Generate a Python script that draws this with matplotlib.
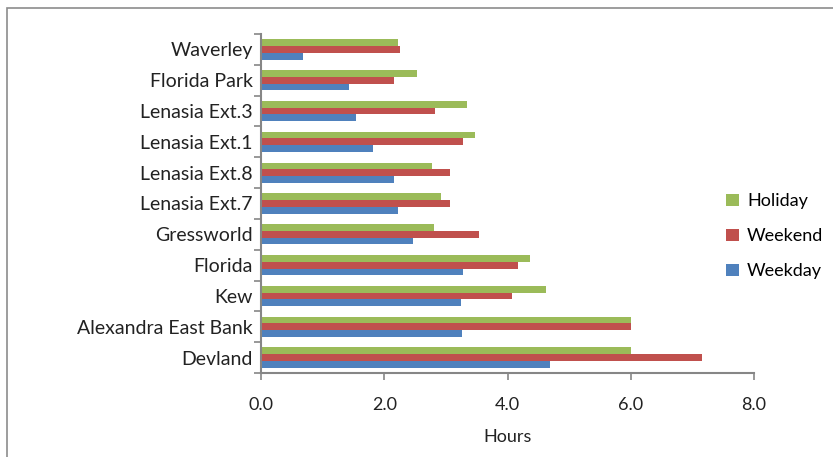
import matplotlib
matplotlib.use("Agg")
import matplotlib.pyplot as plt
import numpy as np
from matplotlib.patches import Rectangle

plt.rcParams['font.family'] = ['Lato', 'DejaVu Sans']

# Suburbs listed bottom to top
suburbs = ["Devland", "Alexandra East Bank", "Kew", "Florida", "Gressworld",
           "Lenasia Ext.7", "Lenasia Ext.8", "Lenasia Ext.1", "Lenasia Ext.3",
           "Florida Park", "Waverley"]
weekday = [4.69, 3.26, 3.24, 3.27, 2.47, 2.22, 2.16, 1.81, 1.54, 1.42, 0.68]
weekend = [7.15, 6.00, 4.07, 4.17, 3.54, 3.06, 3.06, 3.28, 2.83, 2.16, 2.25]
holiday = [6.00, 6.00, 4.62, 4.37, 2.80, 2.92, 2.78, 3.47, 3.35, 2.53, 2.23]
x_ticks = [0.0, 2.0, 4.0, 6.0, 8.0]

c_weekday = "#4F81BD"
c_weekend = "#C0504D"
c_holiday = "#9BBB59"
axis_grey = "#868686"
text_col = "#222222"
fs = 13

W, H = 833, 457
fig = plt.figure(figsize=(W / 100, H / 100), dpi=100)

# outer chart frame
fig.patches.append(Rectangle((7 / W, -0.05), 1.0, 1 - 8 / H + 0.05,
                             transform=fig.transFigure, fill=False,
                             edgecolor="#8c8c8c", linewidth=1.2))

ax = fig.add_axes([261 / W, 1 - 373 / H, (754 - 261) / W, (373 - 34) / H])

y = np.arange(len(suburbs))
h = 0.22
b1 = ax.barh(y - h, weekday, height=h, color=c_weekday, label="Weekday")
b2 = ax.barh(y, weekend, height=h, color=c_weekend, label="Weekend")
b3 = ax.barh(y + h, holiday, height=h, color=c_holiday, label="Holiday")

ax.set_xlim(0, 8)
ax.set_ylim(-0.5, len(suburbs) - 0.5)
ax.set_xticks(x_ticks)
ax.set_xticklabels([f"{v:.1f}" for v in x_ticks])
ax.set_yticks(y)
ax.set_yticklabels(suburbs)
ax.set_yticks(np.arange(-0.5, len(suburbs), 1.0), minor=True)
ax.tick_params(axis="y", which="major", length=0, pad=6, labelsize=14,
               labelcolor=text_col)
ax.tick_params(axis="y", which="minor", length=5, color=axis_grey, width=1.2)
ax.tick_params(axis="x", length=5, color=axis_grey, width=1.2, pad=12,
               labelsize=fs, labelcolor=text_col)

for side in ("top", "right"):
    ax.spines[side].set_visible(False)
for side in ("left", "bottom"):
    ax.spines[side].set_color(axis_grey)
    ax.spines[side].set_linewidth(1.5)

ax.set_xlabel("Hours", fontsize=fs, color=text_col, labelpad=12)

leg = fig.legend([b3, b2, b1], ["Holiday", "Weekend", "Weekday"],
                 loc="upper left", bbox_to_anchor=(719 / W, 1 - 186 / H),
                 frameon=False, fontsize=fs, handlelength=0.7,
                 handleheight=0.7, handletextpad=0.45, labelspacing=1.05,
                 borderaxespad=0)

fig.savefig("out.png", dpi=100)
